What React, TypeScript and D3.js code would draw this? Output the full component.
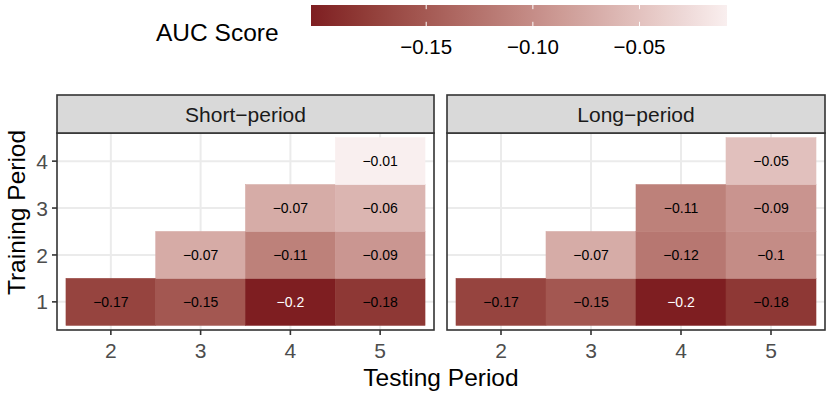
import { useMemo } from 'react'
import * as d3 from 'd3'

// values (AUC score change)
const panels = ['Short−period', 'Long−period']
const testing = [2, 3, 4, 5]
const training = [1, 2, 3, 4]
const shortTrain = [1, 1, 1, 1, 2, 2, 2, 3, 3, 4]
const shortTest = [2, 3, 4, 5, 3, 4, 5, 4, 5, 5]
const shortAuc = [-0.171, -0.152, -0.204, -0.182, -0.072, -0.112, -0.091, -0.071, -0.062, -0.009]
const longTrain = [1, 1, 1, 1, 2, 2, 2, 3, 3, 4]
const longTest = [2, 3, 4, 5, 3, 4, 5, 4, 5, 5]
const longAuc = [-0.171, -0.152, -0.204, -0.182, -0.071, -0.121, -0.101, -0.112, -0.093, -0.052]
const legendTicks = [-0.15, -0.1, -0.05]

const W = 830
const H = 395
const FONT = '"Liberation Sans", Arial, Helvetica, sans-serif'
const PANEL_X = [[57, 434], [447, 825]]
const STRIP = { top: 95, bottom: 133 }
const PANEL_BOTTOM = 330
const BAR = { x0: 311, x1: 727, y0: 5, y1: 26 }

const fmt = (v: number) => String(+v.toFixed(2)).replace('-', '−')
const fmtTick = (v: number) => v.toFixed(2).replace('-', '−')

export default function App() {
  const series = [
    { train: shortTrain, test: shortTest, auc: shortAuc },
    { train: longTrain, test: longTest, auc: longAuc },
  ]
  const all = [...shortAuc, ...longAuc]
  const ext = d3.extent(all) as [number, number]

  const color = useMemo(() => d3.scaleLinear<string>()
    .domain(ext)
    .range(['#7E1E21', '#F9EFEF'])
    .interpolate(d3.interpolateLab), [])

  const legendX = d3.scaleLinear().domain(ext).range([BAR.x0, BAR.x1])

  const y = d3.scaleBand<number>()
    .domain(training.slice().reverse())
    .range([STRIP.bottom, PANEL_BOTTOM])
    .paddingInner(0)
    .paddingOuter(0.1)

  const stops = d3.range(0, 1.0001, 0.05)

  return (
    <div style={{ position: 'absolute', left: 0, top: 0 }}>
      <svg width={W} height={H} style={{ display: 'block', fontFamily: FONT }}>
        <rect width={W} height={H} fill="#fff" />
        <defs>
          <linearGradient id="aucGrad" x1="0" x2="1" y1="0" y2="0">
            {stops.map(s => (
              <stop key={s} offset={s} stopColor={color(ext[0] + s * (ext[1] - ext[0]))} />
            ))}
          </linearGradient>
        </defs>

        {/* Legend */}
        <text x={156} y={41} fontSize={24.5} fill="#000">AUC Score</text>
        <rect x={BAR.x0} y={BAR.y0} width={BAR.x1 - BAR.x0} height={BAR.y1 - BAR.y0} fill="url(#aucGrad)" />
        {legendTicks.map(t => (
          <g key={t}>
            <line x1={legendX(t)} x2={legendX(t)} y1={BAR.y0} y2={BAR.y0 + 4.2} stroke="#fff" strokeWidth={1} />
            <line x1={legendX(t)} x2={legendX(t)} y1={BAR.y1 - 4.2} y2={BAR.y1} stroke="#fff" strokeWidth={1} />
            <text x={legendX(t)} y={53.5} fontSize={20.5} textAnchor="middle" fill="#000">{fmtTick(t)}</text>
          </g>
        ))}

        {/* Panels */}
        {panels.map((name, pi) => {
          const [px0, px1] = PANEL_X[pi]
          const x = d3.scaleBand<number>()
            .domain(testing)
            .range([px0, px1])
            .paddingInner(0)
            .paddingOuter(0.1)
          const s = series[pi]
          return (
            <g key={name}>
              <rect x={px0} y={STRIP.bottom} width={px1 - px0} height={PANEL_BOTTOM - STRIP.bottom} fill="#fff" />
              {testing.map(t => (
                <line key={'gx' + t} x1={x(t)! + x.bandwidth() / 2} x2={x(t)! + x.bandwidth() / 2}
                  y1={STRIP.bottom} y2={PANEL_BOTTOM} stroke="#EBEBEB" strokeWidth={2} />
              ))}
              {training.map(r => (
                <line key={'gy' + r} x1={px0} x2={px1} y1={y(r)! + y.bandwidth() / 2} y2={y(r)! + y.bandwidth() / 2}
                  stroke="#EBEBEB" strokeWidth={2} />
              ))}
              {s.auc.map((v, i) => (
                <rect key={'c' + i} x={x(s.test[i])} y={y(s.train[i])} width={x.bandwidth()} height={y.bandwidth()}
                  fill={color(v)} stroke={color(v)} strokeWidth={0.6} />
              ))}
              {s.auc.map((v, i) => (
                <text key={'l' + i} x={x(s.test[i])! + x.bandwidth() / 2} y={y(s.train[i])! + y.bandwidth() / 2}
                  dy="0.36em" textAnchor="middle" fontSize={14} fill={v === ext[0] ? '#fff' : '#000'}>
                  {fmt(v)}
                </text>
              ))}
              <rect x={px0} y={STRIP.bottom} width={px1 - px0} height={PANEL_BOTTOM - STRIP.bottom}
                fill="none" stroke="#333333" strokeWidth={1.6} />
              <rect x={px0} y={STRIP.top} width={px1 - px0} height={STRIP.bottom - STRIP.top}
                fill="#D9D9D9" stroke="#333333" strokeWidth={1.6} />
              <text x={(px0 + px1) / 2} y={(STRIP.top + STRIP.bottom) / 2} dy="0.36em" textAnchor="middle"
                fontSize={21} fill="#1A1A1A">{name}</text>
              {testing.map(t => (
                <g key={'xt' + t} transform={`translate(${x(t)! + x.bandwidth() / 2},${PANEL_BOTTOM})`}>
                  <line y1={0} y2={5} stroke="#333333" strokeWidth={1.6} />
                  <text y={27.5} textAnchor="middle" fontSize={21} fill="#4D4D4D">{t}</text>
                </g>
              ))}
            </g>
          )
        })}

        {/* Y axis on the left panel only */}
        {training.map(r => (
          <g key={'yt' + r} transform={`translate(${PANEL_X[0][0]},${y(r)! + y.bandwidth() / 2})`}>
            <line x1={-5} x2={0} stroke="#333333" strokeWidth={1.6} />
            <text x={-9} dy="0.36em" textAnchor="end" fontSize={21} fill="#4D4D4D">{r}</text>
          </g>
        ))}

        <text x={(PANEL_X[0][0] + PANEL_X[1][1]) / 2} y={386} textAnchor="middle" fontSize={24.5} fill="#000">
          Testing Period
        </text>
        <text transform={`translate(25,${(STRIP.top + PANEL_BOTTOM) / 2}) rotate(-90)`} textAnchor="middle"
          fontSize={24.5} fill="#000">
          Training Period
        </text>
      </svg>
    </div>
  )
}
